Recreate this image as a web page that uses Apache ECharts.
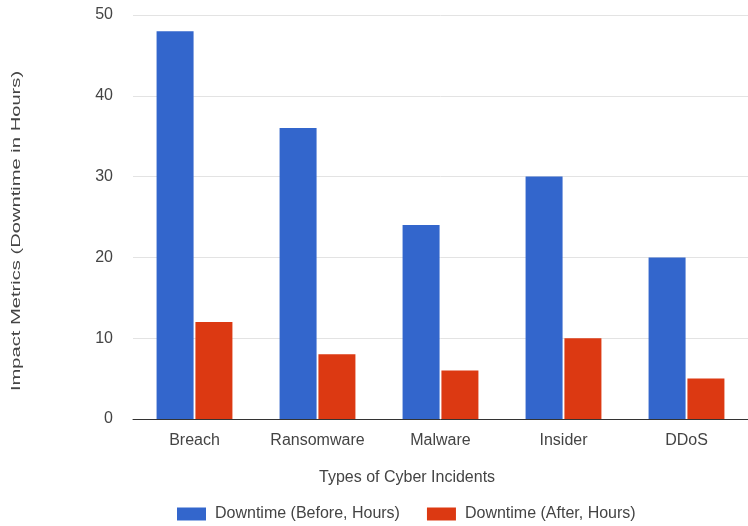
<!DOCTYPE html>
<html>
<head>
<meta charset="utf-8">
<script src="https://cdn.jsdelivr.net/npm/echarts@6/dist/echarts.min.js"></script>
<style>
  html, body { margin: 0; padding: 0; background: #fff; }
  #chart { width: 748px; height: 526px; }
</style>
</head>
<body>
<div id="chart"></div>
<script>
// Incident types and downtime before / after response improvements
const categories = ['Breach', 'Ransomware', 'Malware', 'Insider', 'DDoS'];
const downtimeBefore = [48, 36, 24, 30, 20];
const downtimeAfter = [12, 8, 6, 10, 5];
const yTicks = [0, 10, 20, 30, 40, 50];

const FONT = '"Liberation Sans", Arial, sans-serif';
const TEXT = '#444';

const chart = echarts.init(document.getElementById('chart'), null, { renderer: 'canvas' });

chart.setOption({
  backgroundColor: '#fff',
  animation: false,
  textStyle: { fontFamily: FONT },
  grid: { left: 133, right: -6, top: 15, bottom: 107, containLabel: false },
  legend: {
    top: 506,
    left: 177,
    padding: 0,
    itemWidth: 29,
    itemHeight: 13,
    itemGap: 27,
    icon: 'rect',
    textStyle: { color: TEXT, fontSize: 16, fontFamily: FONT, padding: [0, 0, 0, 4] },
    data: ['Downtime (Before, Hours)', 'Downtime (After, Hours)']
  },
  xAxis: {
    type: 'category',
    data: categories,
    axisLine: { show: true, lineStyle: { color: '#333', width: 1 } },
    axisTick: { show: false },
    axisLabel: { color: TEXT, fontSize: 16, margin: 14, fontFamily: FONT }
  },
  yAxis: {
    type: 'value',
    min: yTicks[0],
    max: yTicks[yTicks.length - 1],
    interval: 10,
    axisLine: { show: false },
    axisTick: { show: false },
    axisLabel: { color: TEXT, fontSize: 16, margin: 20, fontFamily: FONT },
    splitLine: { lineStyle: { color: '#e3e3e3', width: 1 } }
  },
  graphic: [
    {
      type: 'text',
      left: 319,
      top: 470,
      style: { text: 'Types of Cyber Incidents', fill: TEXT, font: '16px ' + FONT }
    },
    {
      type: 'text',
      x: 16,
      y: 231,
      rotation: Math.PI / 2,
      scaleX: 1.55,
      style: {
        text: 'Impact Metrics (Downtime in Hours)',
        fill: TEXT,
        font: '13px ' + FONT,
        textAlign: 'center',
        textVerticalAlign: 'middle'
      }
    }
  ],
  series: [
    {
      name: 'Downtime (Before, Hours)',
      type: 'bar',
      data: downtimeBefore,
      barWidth: 37,
      barGap: '5%',
      itemStyle: { color: '#3366cc' }
    },
    {
      name: 'Downtime (After, Hours)',
      type: 'bar',
      data: downtimeAfter,
      barWidth: 37,
      itemStyle: { color: '#dc3912' }
    }
  ]
});
</script>
</body>
</html>
